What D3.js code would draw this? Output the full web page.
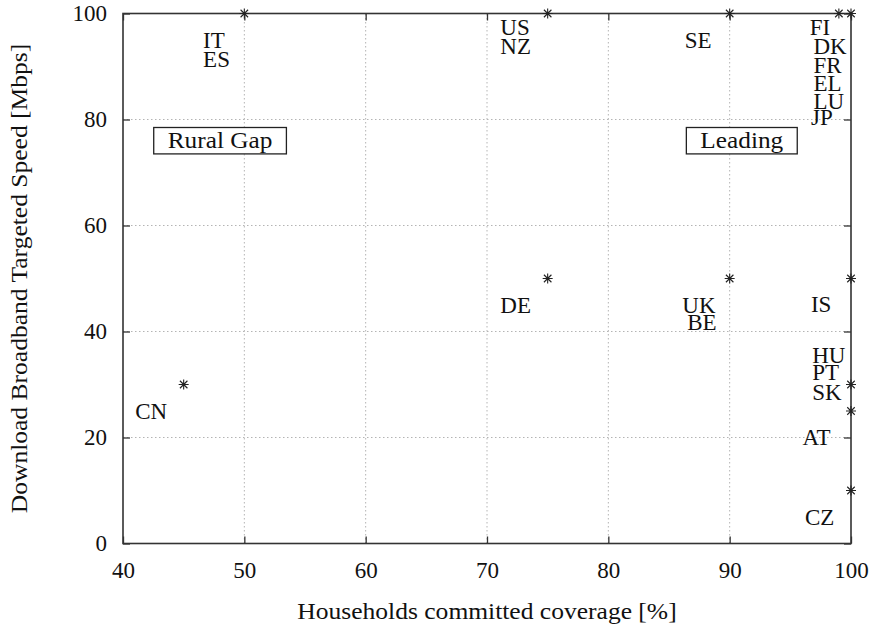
<!DOCTYPE html>
<html>
<head>
<meta charset="utf-8">
<script src="https://cdn.jsdelivr.net/npm/d3@7"></script>
<style>
    body { margin: 0; background: white; }
    svg { display: block; font-family: "Liberation Serif", "DejaVu Serif", serif; }
</style>
</head>
<body>
<div id="chart"></div>
<script>
// points: coverage [%], speed [Mbps]
let coverage = [50, 75, 90, 99, 100, 45, 75, 90, 100, 100, 100, 100]
let speed = [100, 100, 100, 100, 100, 30, 50, 50, 50, 30, 25, 10]

// country labels, placed in data coordinates (left edge, baseline)
let labelNames = ["IT", "ES", "US", "NZ", "SE", "FI", "DK", "FR", "EL", "LU", "JP",
    "DE", "UK", "BE", "IS", "HU", "PT", "SK", "AT", "CZ", "CN"]
let labelX = [46.6, 46.6, 71.1, 71.1, 86.3, 96.6, 96.9, 96.9, 96.9, 96.9, 96.7,
    71.1, 86.1, 86.5, 96.7, 96.8, 96.8, 96.8, 96.0, 96.2, 41.0]
let labelY = [93.5, 89.9, 95.9, 92.4, 93.4, 95.9, 92.4, 88.8, 85.3, 81.9, 79.0,
    43.5, 43.5, 40.3, 43.7, 34.1, 30.9, 27.0, 18.5, 3.5, 23.5]

// boxed region labels (centre)
let regionNames = ["Rural Gap", "Leading"]
let regionX = [48.0, 91.0]
let regionY = [76.0, 76.0]

let xTicks = [40, 50, 60, 70, 80, 90, 100]
let yTicks = [0, 20, 40, 60, 80, 100]

const width = 878
const height = 624
const margin = { left: 123, right: 27, top: 13.5, bottom: 80.5 }
const fontSize = 23
const tickLen = 7

let x = d3.scaleLinear().domain([40, 100]).range([margin.left, width - margin.right])
let y = d3.scaleLinear().domain([0, 100]).range([height - margin.bottom, margin.top])

const svg = d3.select("#chart").append("svg")
    .attr("width", width)
    .attr("height", height)

// grid
let grid = svg.append("g")
    .attr("stroke", "#b4b4b4")
    .attr("stroke-width", 1)
    .attr("stroke-dasharray", "1.5,2.5")
grid.selectAll(".gx")
    .data(xTicks.filter(t => t > 40 && t < 100))
    .join("line")
    .attr("x1", d => x(d)).attr("x2", d => x(d))
    .attr("y1", y(0)).attr("y2", y(100))
grid.selectAll(".gy")
    .data(yTicks.filter(t => t > 0 && t < 100))
    .join("line")
    .attr("x1", x(40)).attr("x2", x(100))
    .attr("y1", d => y(d)).attr("y2", d => y(d))

let styleAxis = function (g) {
    g.select(".domain").remove()
    g.selectAll(".tick line").attr("stroke", "#333").attr("stroke-width", 1.3)
    g.selectAll(".tick text")
        .attr("fill", "#111")
        .style("font-size", fontSize + "px")
        .style("font-family", "'Liberation Serif', 'DejaVu Serif', serif")
}

svg.append("g")
    .attr("transform", `translate(0,${y(0)})`)
    .call(d3.axisBottom(x).tickValues(xTicks).tickSize(-tickLen).tickPadding(18))
    .call(styleAxis)

svg.append("g")
    .attr("transform", `translate(${x(40)},0)`)
    .call(d3.axisLeft(y).tickValues(yTicks).tickSize(-tickLen).tickPadding(16))
    .call(styleAxis)

// mirrored ticks
svg.append("g")
    .attr("transform", `translate(0,${y(100)})`)
    .call(d3.axisTop(x).tickValues(xTicks).tickSize(-tickLen).tickFormat(""))
    .call(styleAxis)

svg.append("g")
    .attr("transform", `translate(${x(100)},0)`)
    .call(d3.axisRight(y).tickValues(yTicks).tickSize(-tickLen).tickFormat(""))
    .call(styleAxis)

// border
svg.append("rect")
    .attr("x", x(40))
    .attr("y", y(100))
    .attr("width", x(100) - x(40))
    .attr("height", y(0) - y(100))
    .attr("fill", "none")
    .attr("stroke", "#333")
    .attr("stroke-width", 1.6)

// country labels
let labels = labelNames.map((n, i) => ({ name: n, x: labelX[i], y: labelY[i] }))
svg.append("g")
    .selectAll("text")
    .data(labels)
    .join("text")
    .attr("x", d => x(d.x))
    .attr("y", d => y(d.y))
    .attr("fill", "#111")
    .style("font-size", fontSize + "px")
    .text(d => d.name)

// boxed labels
let regions = regionNames.map((n, i) => ({ name: n, x: regionX[i], y: regionY[i] }))
let regionG = svg.append("g")
    .selectAll("g")
    .data(regions)
    .join("g")
    .attr("transform", d => `translate(${x(d.x)},${y(d.y)})`)

regionG.append("text")
    .attr("text-anchor", "middle")
    .attr("y", 7)
    .attr("fill", "#111")
    .style("font-size", fontSize + "px")
    .text(d => d.name)
    .each(function () {
        // reference lettering runs about 10% wider
        let w = this.getComputedTextLength() * 1.1
        d3.select(this).attr("textLength", w).attr("lengthAdjust", "spacingAndGlyphs")
    })

regionG.each(function (d) {
    let w = +d3.select(this).select("text").attr("textLength")
    d3.select(this).insert("rect", "text")
        .attr("x", -w / 2 - 14)
        .attr("y", -13.2)
        .attr("width", w + 28)
        .attr("height", 26.4)
        .attr("fill", "white")
        .attr("stroke", "#222")
        .attr("stroke-width", 1.3)
})

// star markers
let points = coverage.map((c, i) => ({ c: c, s: speed[i] }))
const r = 5
let star = svg.append("g")
    .attr("stroke", "#222")
    .attr("stroke-width", 1.1)
    .selectAll("g")
    .data(points)
    .join("g")
    .attr("transform", d => `translate(${x(d.c)},${y(d.s)})`)
star.append("path")
    .attr("d", `M${-r},0H${r}M0,${-r}V${r}M${-r * 0.75},${-r * 0.75}L${r * 0.75},${r * 0.75}M${-r * 0.75},${r * 0.75}L${r * 0.75},${-r * 0.75}`)

// axis titles
let stretch = function (t) {
    t.each(function () {
        d3.select(this)
            .attr("textLength", this.getComputedTextLength() * 1.11)
            .attr("lengthAdjust", "spacingAndGlyphs")
    })
}

svg.append("text")
    .attr("x", (x(40) + x(100)) / 2)
    .attr("y", 618.5)
    .attr("text-anchor", "middle")
    .attr("fill", "#111")
    .style("font-size", fontSize + "px")
    .text("Households committed coverage [%]")
    .call(stretch)

svg.append("text")
    .attr("transform", `translate(27,${(y(0) + y(100)) / 2}) rotate(-90)`)
    .attr("text-anchor", "middle")
    .attr("fill", "#111")
    .style("font-size", fontSize + "px")
    .text("Download Broadband Targeted Speed [Mbps]")
    .call(stretch)
</script>
</body>
</html>
